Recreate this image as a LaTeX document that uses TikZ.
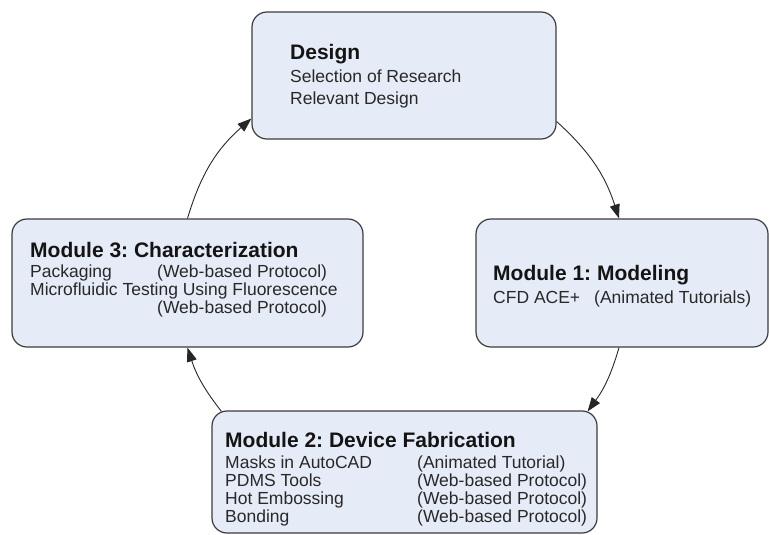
\documentclass[tikz,border=0pt]{standalone}
\usepackage{fontspec}
\setmainfont{Liberation Sans}
\usetikzlibrary{arrows.meta,calc}
\definecolor{boxfill}{RGB}{230,236,247}
\definecolor{boxline}{RGB}{60,60,60}
\definecolor{txt}{RGB}{20,20,20}
\definecolor{bodytxt}{RGB}{40,40,40}
\frenchspacing
\begin{document}
\begin{tikzpicture}[x=1pt,y=-1pt,
  box/.style={draw=boxline, line width=1.2pt, fill=boxfill, rounded corners=15pt, inner sep=0pt},
  ttl/.style={anchor=base west, inner sep=0pt, font=\fontsize{21}{25}\selectfont\bfseries, text=txt},
  bdy/.style={anchor=base west, inner sep=0pt, font=\fontsize{17.5}{20}\selectfont, text=bodytxt},
  flow/.style={draw=black!85, line width=0.9pt, -{Triangle[length=14pt,width=10pt]}}]
\useasboundingbox (0,0) rectangle (769,535);

% boxes
\node[box, minimum width=304pt, minimum height=127pt] (design) at (404,75.5) {};
\node[box, minimum width=292pt, minimum height=128pt] (mod1) at (622,283) {};
\node[box, minimum width=351pt, minimum height=128pt] (mod3) at (187.5,283) {};
\node[box, minimum width=385pt, minimum height=122pt] (mod2) at (404.5,472) {};

% design text
\node[ttl] (dT) at (290,60) {Design};
\node[bdy] (d1) at (290,83) {Selection of Research};
\node[bdy] (d2) at (290,104) {Relevant Design};

% module 1 text
\node[ttl] (m1T) at (493,280) {Module 1: Modeling};
\node[bdy] (m1a) at (493,303) {CFD ACE+};
\node[bdy] (m1b) at (594,303) {(Animated Tutorials)};

% module 3 text
\node[ttl] (m3T) at (30,257) {Module 3: Characterization};
\node[bdy] (m3a) at (30,277) {Packaging};
\node[bdy] (m3b) at (157,277) {(Web-based Protocol)};
\node[bdy] (m3c) at (30,295) {Microfluidic Testing Using Fluorescence};
\node[bdy] (m3d) at (157,313) {(Web-based Protocol)};

% module 2 text
\node[ttl] (m2T) at (225,447) {Module 2: Device Fabrication};
\node[bdy] (m2a) at (225,468) {Masks in AutoCAD};
\node[bdy] (m2b) at (417,468) {(Animated Tutorial)};
\node[bdy] (m2c) at (225,486) {PDMS Tools};
\node[bdy] (m2d) at (417,486) {(Web-based Protocol)};
\node[bdy] (m2e) at (225,504) {Hot Embossing};
\node[bdy] (m2f) at (417,504) {(Web-based Protocol)};
\node[bdy] (m2g) at (225,522) {Bonding};
\node[bdy] (m2h) at (417,522) {(Web-based Protocol)};

% connectors
\draw[flow] ($(design.east)+(0,46)$) to[bend left=15] ($(mod1.north)+(-3,0)$);
\draw[flow] ($(mod1.south)+(-3,0)$) to[bend left=10] ($(mod2.north east)+(-10,1)$);
\draw[flow] ($(mod2.north west)+(10,1)$) to[bend left=10] (mod3.south);
\draw[flow] (mod3.north) to[bend left=16] ($(design.west)+(0,43)$);
\end{tikzpicture}
\end{document}
